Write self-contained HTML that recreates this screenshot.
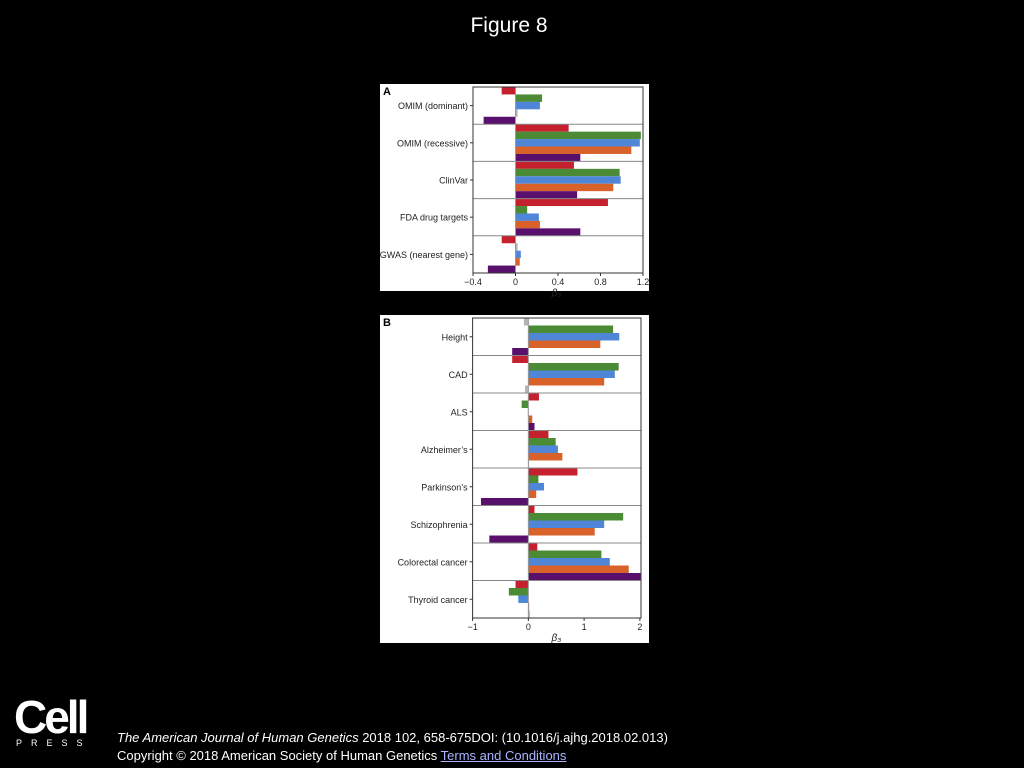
<!DOCTYPE html>
<html><head><meta charset="utf-8"><style>
body{margin:0;background:#000;width:1024px;height:768px;overflow:hidden;font-family:"Liberation Sans",sans-serif;}
.t{position:absolute;color:#fff}
</style></head><body>
<div class="t" style="left:0;width:1018px;top:14px;text-align:center;font-size:21px">Figure 8</div>
<svg id="fig" width="1024" height="768" style="position:absolute;left:0;top:0" font-family="Liberation Sans, sans-serif"></svg>
<div class="t" style="left:14px;top:690px;font-size:46px;font-weight:bold;letter-spacing:-3px">Cell</div>
<div class="t" style="left:16px;top:738px;font-size:9px;letter-spacing:9px">PRESS</div>
<div class="t" style="left:117px;top:730px;font-size:13px"><i>The American Journal of Human Genetics</i> 2018 102, 658-675DOI: (10.1016/j.ajhg.2018.02.013)</div>
<div class="t" style="left:117px;top:748px;font-size:13px">Copyright © 2018 American Society of Human Genetics <u style="color:#aab4ff"> Terms and Conditions</u></div>
<script>
const seriesColors=["#c4202e","#4b8b36","#4f86d8","#d9622b","#58106c"];
const catsA=["OMIM (dominant)","OMIM (recessive)","ClinVar","FDA drug targets","GWAS (nearest gene)"];
const redA=[-0.13,0.50,0.55,0.87,-0.13];
const greenA=[0.25,1.18,0.98,0.11,0.02];
const blueA=[0.23,1.17,0.99,0.22,0.05];
const orangeA=[0.02,1.09,0.92,0.23,0.04];
const purpleA=[-0.30,0.61,0.58,0.61,-0.26];
const nsA=[[0,3],[4,1]];
const ticksA=[-0.4,0,0.4,0.8,1.2];
const catsB=["Height","CAD","ALS","Alzheimer’s","Parkinson’s","Schizophrenia","Colorectal cancer","Thyroid cancer"];
const redB=[-0.08,-0.29,0.19,0.36,0.88,0.11,0.16,-0.23];
const greenB=[1.52,1.62,-0.12,0.49,0.18,1.70,1.31,-0.35];
const blueB=[1.63,1.55,-0.01,0.53,0.28,1.36,1.46,-0.18];
const orangeB=[1.29,1.36,0.07,0.61,0.14,1.19,1.80,0];
const purpleB=[-0.29,-0.06,0.11,0.005,-0.85,-0.70,2.01,0.03];
const nsB=[[0,0],[1,4],[2,2],[3,4],[7,4]];
const ticksB=[-1,0,1,2];
const NS="http://www.w3.org/2000/svg";
const svg=document.getElementById('fig');
function mk(t,a,p){const e=document.createElementNS(NS,t);for(const k in a)e.setAttribute(k,a[k]);(p||svg).appendChild(e);return e;}
function panel(o){
 const g=mk('g',{});
 
 
 const bg=mk('rect',{x:o.bx,y:o.by,width:o.bw,height:o.bh,fill:'#fff'},g);
 
 
 const x=v=>o.L+(v-o.min)/(o.max-o.min)*(o.R-o.L);
 const band=(o.B-o.T)/o.cats.length, bh=band/5;
 const series=[o.red,o.green,o.blue,o.orange,o.purple];
 o.cats.forEach((c,i)=>{
  const y0=o.T+i*band;
  series.forEach((s,j)=>{
   const v=s[i]; const ns=o.ns.some(p=>p[0]===i&&p[1]===j);
   const r=mk('rect',{x:Math.min(x(0),x(v)),y:y0+j*bh,width:Math.max(Math.abs(x(v)-x(0)),0.8),height:bh,fill:ns?'#b5b5b5':seriesColors[j]},g);
   
   
  });
  if(i>0){const l=mk('line',{x1:o.L,x2:o.R,y1:y0,y2:y0,stroke:'#888','stroke-width':1},g);
   
   }
  mk('line',{x1:o.L-3,x2:o.L,y1:y0+band/2,y2:y0+band/2,stroke:'#333'},g);
  const t=mk('text',{x:o.L-5,y:y0+band/2+3.5,'text-anchor':'end','font-size':9,fill:'#222'},g);
  t.textContent=c;
  
  
 });
 mk('line',{x1:x(0),x2:x(0),y1:o.T,y2:o.B,stroke:'#999'},g);
 const fr=mk('rect',{x:o.L,y:o.T,width:o.R-o.L,height:o.B-o.T,fill:'none',stroke:'#333'},g);
 
 
 o.ticks.forEach(v=>{
  mk('line',{x1:x(v),x2:x(v),y1:o.B,y2:o.B+3,stroke:'#333'},g);
  const t=mk('text',{x:x(v),y:o.B+12,'text-anchor':'middle','font-size':9,fill:'#222'},g);
  t.textContent=v<0?'−'+Math.abs(v):String(v);
  
  
 });
 const xt=mk('text',{x:x(0)+(o.name==='panel-a'?41:28),y:o.B+23,'text-anchor':'middle','font-size':10,'font-style':'italic',fill:'#222'},g);
 xt.textContent='β₃';
 
 
 const pl=mk('text',{x:o.bx+3,y:o.by+11,'font-size':11,'font-weight':'bold',fill:'#000'},g);
 pl.textContent=o.label;
 
 
}
panel({name:'panel-a',label:'A',bx:380,by:84,bw:269,bh:207,L:473,R:643,T:87,B:273,min:-0.4,max:1.2,cats:catsA,red:redA,green:greenA,blue:blueA,orange:orangeA,purple:purpleA,ns:nsA,ticks:ticksA});
panel({name:'panel-b',label:'B',bx:380,by:315,bw:269,bh:328,L:472.6,R:641,T:318,B:618,min:-1,max:2.02,cats:catsB,red:redB,green:greenB,blue:blueB,orange:orangeB,purple:purpleB,ns:nsB,ticks:ticksB});
</script>
</body></html>
